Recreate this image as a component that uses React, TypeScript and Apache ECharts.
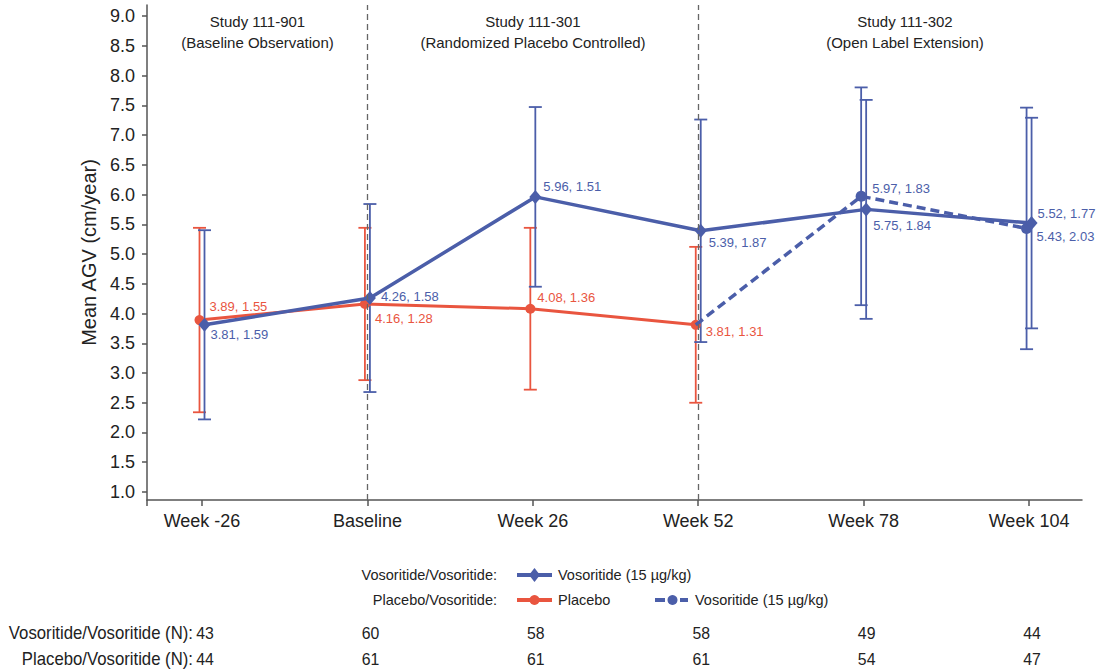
import React, { useEffect, useRef } from "react";
import * as echarts from "echarts";

// ---------- data ----------
const timepoints = ["Week -26", "Baseline", "Week 26", "Week 52", "Week 78", "Week 104"];
const yTicks = [1.0, 1.5, 2.0, 2.5, 3.0, 3.5, 4.0, 4.5, 5.0, 5.5, 6.0, 6.5, 7.0, 7.5, 8.0, 8.5, 9.0];

// Vosoritide/Vosoritide group (all timepoints)
const vosoMean = [3.81, 4.26, 5.96, 5.39, 5.75, 5.52];
const vosoSD = [1.59, 1.58, 1.51, 1.87, 1.84, 1.77];

// Placebo/Vosoritide group, placebo phase (Week -26 .. Week 52)
const placeboMean = [3.89, 4.16, 4.08, 3.81];
const placeboSD = [1.55, 1.28, 1.36, 1.31];

// Placebo/Vosoritide group, crossover to vosoritide (Week 52 .. Week 104)
const crossStartIndex = 3;
const crossMean = [3.81, 5.97, 5.43];
const crossSD = [1.31, 1.83, 2.03];

const vosoN = [43, 60, 58, 58, 49, 44];
const placeboN = [44, 61, 61, 61, 54, 47];

const studyTitles = ["Study 111-901", "Study 111-301", "Study 111-302"];
const studySubtitles = ["(Baseline Observation)", "(Randomized Placebo Controlled)", "(Open Label Extension)"];
const phaseBreaks = [1, 3];

// ---------- style ----------
const BLUE = "#4b5ea9";
const RED = "#e9553f";
const FONT = "'Liberation Sans', Arial, Helvetica, sans-serif";
const X_MIN = -0.3325;
const X_MAX = 5.32;
const Y_MIN = 0.8655;
const Y_MAX = 9.185;
const OFF = 0.015; // horizontal dodge between groups (axis units)

const vosoLabelOffsets = [[6, 10], [11, -2], [8, -10], [8, 12], [7, 16], [6, -10]];
const placeboLabelOffsets = [[10, -14], [10, 15], [7, -11], [10, 7]];
const crossLabelOffsets = [null, [11, -8], [10, 8]];

const fmt = (m: number, s: number) => `${m.toFixed(2)}, ${s.toFixed(2)}`;

function labelCfg(off: number[] | null, text: string, color: string) {
  if (!off) return { show: false };
  return {
    show: true,
    position: "inside",
    align: "left",
    verticalAlign: "middle",
    offset: off,
    formatter: text,
    color,
    fontSize: 13,
    fontFamily: FONT,
    textBorderWidth: 0,
  };
}

function errorSeries(points: number[][], color: string, pxOff: number, z: number) {
  return {
    type: "custom",
    z,
    silent: true,
    encode: { x: 0, y: [1, 2] },
    data: points,
    renderItem: (params: any, api: any) => {
      const x = api.value(0);
      const lo = api.value(1);
      const hi = api.value(2);
      const pHi = api.coord([x, hi]);
      const pLo = api.coord([x, lo]);
      const px = pHi[0] + pxOff;
      const hw = 6.5;
      const st = { stroke: color, lineWidth: 1.8 };
      return {
        type: "group",
        children: [
          { type: "line", shape: { x1: px, y1: pHi[1], x2: px, y2: pLo[1] }, style: st },
          { type: "line", shape: { x1: px - hw, y1: pHi[1], x2: px + hw, y2: pHi[1] }, style: st },
          { type: "line", shape: { x1: px - hw, y1: pLo[1], x2: px + hw, y2: pLo[1] }, style: st },
        ],
      };
    },
  };
}

export default function App() {
  const ref = useRef<HTMLDivElement>(null);

  useEffect(() => {
    if (!ref.current) return;
    const chart = echarts.init(ref.current, undefined, { renderer: "svg" });

    const vosoData = vosoMean.map((m, i) => ({
      value: [i + OFF, m],
      label: labelCfg(vosoLabelOffsets[i], fmt(m, vosoSD[i]), BLUE),
    }));
    const placeboData = placeboMean.map((m, i) => ({
      value: [i - OFF, m],
      label: labelCfg(placeboLabelOffsets[i], fmt(m, placeboSD[i]), RED),
    }));
    const crossData = crossMean.map((m, i) => ({
      value: [crossStartIndex + i - OFF, m],
      symbol: i === 0 ? "none" : "circle",
      label: labelCfg(crossLabelOffsets[i], fmt(m, crossSD[i]), BLUE),
    }));

    const vosoErr = vosoMean.map((m, i) => [i, m - vosoSD[i], m + vosoSD[i]]);
    const placeboErr = placeboMean.map((m, i) => [i, m - placeboSD[i], m + placeboSD[i]]);
    const crossErr = crossMean
      .map((m, i) => [crossStartIndex + i, m - crossSD[i], m + crossSD[i]])
      .filter((_, i) => i > 0);

    const xTickVals = [X_MIN, ...timepoints.map((_, i) => i)];

    chart.setOption({
      animation: false,
      backgroundColor: "#ffffff",
      textStyle: { fontFamily: FONT },
      grid: { left: 147, right: 17, top: 5, bottom: 171, containLabel: false },
      xAxis: {
        type: "value",
        min: X_MIN,
        max: X_MAX,
        splitLine: { show: false },
        axisLine: { show: true, onZero: false, lineStyle: { color: "#555", width: 1.5 } },
        axisTick: { show: true, length: 6, customValues: xTickVals, lineStyle: { color: "#555", width: 1.5 } },
        axisLabel: {
          customValues: timepoints.map((_, i) => i),
          formatter: (v: number) => timepoints[Math.round(v)] ?? "",
          fontSize: 18,
          color: "#222",
          margin: 12,
          fontFamily: FONT,
        },
      },
      yAxis: {
        type: "value",
        min: Y_MIN,
        max: Y_MAX,
        splitLine: { show: false },
        axisLine: { show: true, onZero: false, lineStyle: { color: "#555", width: 1.5 } },
        axisTick: { show: true, length: 5, customValues: yTicks, lineStyle: { color: "#555", width: 1.5 } },
        axisLabel: {
          customValues: yTicks,
          formatter: (v: number) => v.toFixed(1),
          fontSize: 18,
          color: "#222",
          margin: 12,
          fontFamily: FONT,
        },
        name: "Mean AGV (cm/year)",
        nameLocation: "middle",
        nameGap: 47,
        nameTextStyle: { fontSize: 20, color: "#222", fontFamily: FONT },
      },
      series: [
        errorSeries(placeboErr, RED, -2.5, 1),
        errorSeries(vosoErr, BLUE, 2.5, 1),
        errorSeries(crossErr, BLUE, -2.5, 1),
        {
          type: "line",
          name: "Placebo",
          z: 2,
          data: placeboData,
          symbol: "circle",
          symbolSize: 10,
          itemStyle: { color: RED },
          lineStyle: { color: RED, width: 3 },
          markLine: {
            silent: true,
            symbol: "none",
            label: { show: false },
            lineStyle: { color: "#666", width: 1.3, type: [6, 4] },
            data: phaseBreaks.map((b) => ({ xAxis: b })),
          },
        },
        {
          type: "line",
          name: "Vosoritide crossover",
          z: 3,
          data: crossData,
          symbolSize: 11,
          itemStyle: { color: BLUE },
          lineStyle: { color: BLUE, width: 3.5, type: [9, 5] },
        },
        {
          type: "line",
          name: "Vosoritide",
          z: 4,
          data: vosoData,
          symbol: "diamond",
          symbolSize: [12, 14],
          itemStyle: { color: BLUE },
          lineStyle: { color: BLUE, width: 3.5 },
        },
      ],
    });

    const catX = timepoints.map((_, i) => chart.convertToPixel({ xAxisIndex: 0 }, i) as number);
    const txt = (x: number, y: number, text: string, align: string, size: number, fill = "#222", extra: any = {}) => ({
      type: "text",
      x,
      y,
      silent: true,
      ...extra,
      style: { text, fill, font: `${size}px ${FONT}`, textAlign: align, textVerticalAlign: "middle" },
    });

    const headerX = [257.5, 533, 905];
    const graphics: any[] = [];
    studyTitles.forEach((t, i) => {
      graphics.push(txt(headerX[i], 21, t, "center", 15));
      graphics.push(txt(headerX[i], 42, studySubtitles[i], "center", 15));
    });

    // legend
    const ly1 = 575;
    const ly2 = 600;
    graphics.push(txt(497, ly1, "Vosoritide/Vosoritide:", "right", 14.5));
    graphics.push({ type: "line", shape: { x1: 517, y1: ly1, x2: 552, y2: ly1 }, style: { stroke: BLUE, lineWidth: 4 } });
    graphics.push({
      type: "polygon",
      shape: { points: [[534.5, ly1 - 7], [540, ly1], [534.5, ly1 + 7], [529, ly1]] },
      style: { fill: BLUE },
    });
    graphics.push(txt(558, ly1, "Vosoritide (15 µg/kg)", "left", 14.5));
    graphics.push(txt(497, ly2, "Placebo/Vosoritide:", "right", 14.5));
    graphics.push({ type: "line", shape: { x1: 517, y1: ly2, x2: 552, y2: ly2 }, style: { stroke: RED, lineWidth: 4 } });
    graphics.push({ type: "circle", shape: { cx: 534.5, cy: ly2, r: 5 }, style: { fill: RED } });
    graphics.push(txt(558, ly2, "Placebo", "left", 14.5));
    graphics.push({ type: "line", shape: { x1: 655, y1: ly2, x2: 665, y2: ly2 }, style: { stroke: BLUE, lineWidth: 4 } });
    graphics.push({ type: "circle", shape: { cx: 672.5, cy: ly2, r: 5 }, style: { fill: BLUE } });
    graphics.push({ type: "line", shape: { x1: 680, y1: ly2, x2: 688, y2: ly2 }, style: { stroke: BLUE, lineWidth: 4 } });
    graphics.push(txt(695, ly2, "Vosoritide (15 µg/kg)", "left", 14.5));

    // N table
    const ty1 = 633;
    const ty2 = 659;
    const cond = { scaleX: 0.93 };
    graphics.push(txt(193, ty1, "Vosoritide/Vosoritide (N):", "right", 18, "#222", cond));
    graphics.push(txt(193, ty2, "Placebo/Vosoritide (N):", "right", 18, "#222", cond));
    vosoN.forEach((n, i) => graphics.push(txt(catX[i] + 3, ty1, String(n), "center", 17, "#222", cond)));
    placeboN.forEach((n, i) => graphics.push(txt(catX[i] + 3, ty2, String(n), "center", 17, "#222", cond)));

    chart.setOption({ graphic: graphics });

    return () => chart.dispose();
  }, []);

  return (
    <div
      ref={ref}
      style={{ position: "fixed", left: 0, top: 0, width: 1099, height: 671, background: "#fff" }}
    />
  );
}
